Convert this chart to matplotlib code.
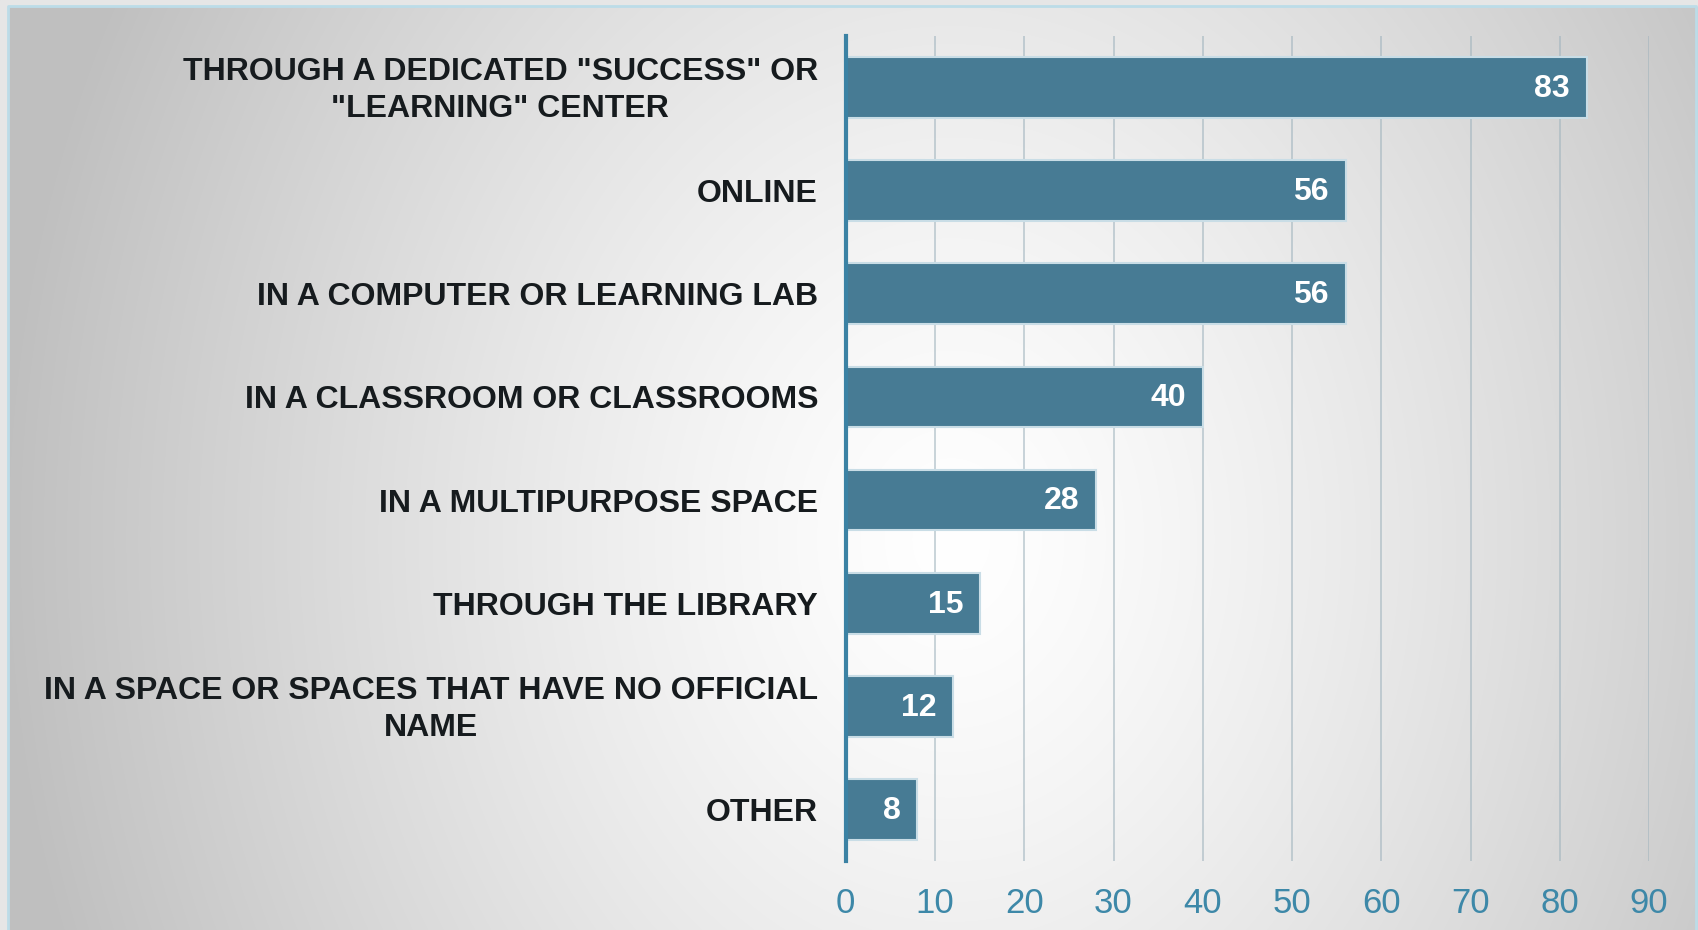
import numpy as np
import matplotlib
matplotlib.use("Agg")
import matplotlib.pyplot as plt
from matplotlib import font_manager as fm
from matplotlib.patches import Rectangle

categories = [
    'THROUGH A DEDICATED "SUCCESS" OR\n"LEARNING" CENTER',
    "ONLINE",
    "IN A COMPUTER OR LEARNING LAB",
    "IN A CLASSROOM OR CLASSROOMS",
    "IN A MULTIPURPOSE SPACE",
    "THROUGH THE LIBRARY",
    "IN A SPACE OR SPACES THAT HAVE NO OFFICIAL\nNAME",
    "OTHER",
]
values = [83, 56, 56, 40, 28, 15, 12, 8]
xticks = [0, 10, 20, 30, 40, 50, 60, 70, 80, 90]

names = {f.name for f in fm.fontManager.ttflist}
tick_family = "Liberation Sans Narrow" if "Liberation Sans Narrow" in names else "Liberation Sans"

W, H = 1698, 930
fig = plt.figure(figsize=(W / 100, H / 100), dpi=100)
fig.patch.set_facecolor("#e4e4e4")

# background gradient
bg = fig.add_axes([0, 0, 1, 1], zorder=-10)
bg.set_axis_off()
yy, xx = np.mgrid[0:H, 0:W]
cx, cy = 0.56 * W, 0.58 * H
d = np.sqrt(((xx - cx) / (0.56 * W)) ** 2 + ((yy - cy) / (1.25 * H)) ** 2)
g = 1.0 - 0.25 * np.clip(d, 0, 1.1) ** 1.3
g = np.clip(g, 0.75, 1.0)
img = np.dstack([g, g, g])
bg.imshow(img, extent=[0, W, H, 0], aspect="auto", interpolation="bilinear")
bg.add_patch(Rectangle((0, 0), W, 6, color="#e6e6e6", zorder=2))
bg.add_patch(Rectangle((0, 0), 8, H, color="#e6e6e6", zorder=2))
bg.plot([8.5, 8.5, W - 1.5, W - 1.5], [H, 6.5, 6.5, H], color="#bcdce8", lw=2, zorder=3)
bg.set_xlim(0, W)
bg.set_ylim(H, 0)

ax = fig.add_axes([845.8 / W, 1 - 861 / H, (1649 - 845.8) / W, (861 - 36) / H])
ax.set_facecolor("none")
y = np.arange(len(categories))
bars = ax.barh(y, values, height=0.59, color="#477b94", edgecolor="#c9dde6",
               linewidth=1.5, zorder=3)
ax.set_xlim(0, 90)
ax.set_ylim(len(categories) - 0.5, -0.5)
ax.set_xticks(xticks)
ax.set_xticklabels([str(t) for t in xticks], family=tick_family, fontsize=25,
                   color="#3d88a8")
ax.set_yticks(y)
ax.set_yticklabels([])
for yi, lab in zip(y, categories):
    dy = 3 if "\n" in lab else 0
    ax.annotate(lab, xy=(0, yi), xycoords=("axes fraction", "data"),
                xytext=(-20, dy), textcoords="offset points",
                ha="right", va="center_baseline", fontsize=23, fontweight="bold",
                color="#161b1e", family="Liberation Sans", linespacing=1.3,
                multialignment="center", annotation_clip=False)
ax.tick_params(axis="y", length=0, pad=20)
ax.tick_params(axis="x", length=0, pad=19)
ax.grid(axis="x", color="#9fb3bd", alpha=0.65, lw=1.2, zorder=1)
ax.grid(axis="y", visible=False)
for s in ["top", "right", "bottom"]:
    ax.spines[s].set_visible(False)
ax.spines["left"].set_color("#3b82a4")
ax.spines["left"].set_linewidth(3)
ax.spines["left"].set_zorder(4)

for yi, v in zip(y, values):
    ax.annotate(str(v), xy=(v, yi), xytext=(-12, -1), textcoords="offset points",
                ha="right", va="center", color="white", fontsize=23,
                fontweight="bold", family="Liberation Sans", zorder=5)

fig.savefig("out.png", dpi=100)
